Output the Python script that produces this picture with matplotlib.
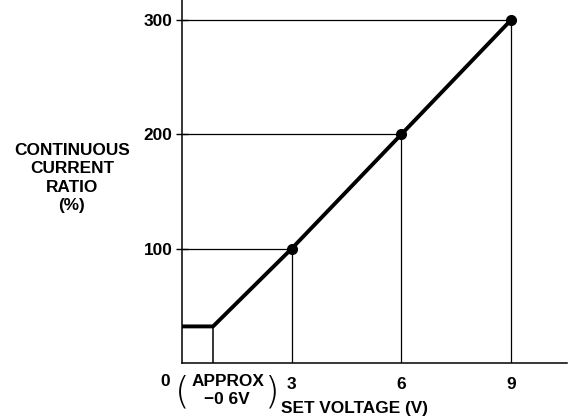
import matplotlib.pyplot as plt

# characteristic: set voltage vs continuous current ratio
set_voltage = [0, 0.85, 3, 6, 9]
current_ratio = [32, 32, 100, 200, 300]
marked_v = [3, 6, 9]
marked_ratio = [100, 200, 300]
x_ticks = [3, 6, 9]
y_ticks = [100, 200, 300]

plt.rcParams['font.family'] = ['Liberation Sans', 'DejaVu Sans']
fs = 12.4

fig = plt.figure(figsize=(5.71, 4.19), dpi=100)
ax = fig.add_axes([0.3187, 0.1337, 0.674, 0.866])
ax.set_xlim(0, 10.53)
ax.set_ylim(0, 317.5)

# thin guide lines to each marked point
for v, r in zip(marked_v, marked_ratio):
    ax.plot([0, v], [r, r], color='black', lw=0.9)
    ax.plot([v, v], [0, r], color='black', lw=0.9)

# small box under the flat part
ax.plot([set_voltage[1], set_voltage[1]], [0, current_ratio[1]], color='black', lw=1.1)

ax.plot(set_voltage, current_ratio, color='black', lw=2.8, solid_capstyle='butt')
ax.plot(marked_v, marked_ratio, 'o', color='black', ms=7)

for s in ['top', 'right']:
    ax.spines[s].set_visible(False)
for s in ['left', 'bottom']:
    ax.spines[s].set_linewidth(1.1)

ax.set_xticks(x_ticks)
ax.set_xticklabels([str(v) for v in x_ticks], fontsize=fs, fontweight='bold')
ax.tick_params(axis='x', length=0, pad=10)
ax.set_yticks(y_ticks)
ax.set_yticklabels([str(v) for v in y_ticks], fontsize=fs, fontweight='bold')
ax.tick_params(axis='y', direction='inout', length=8, width=1, pad=3)

# origin label and the offset note
ax.text(-0.46, -16.6, '0', ha='center', va='center', fontsize=fs, fontweight='bold', clip_on=False)
ax.text(1.26, -16.6, 'APPROX', ha='center', va='center', fontsize=fs, fontweight='bold', clip_on=False)
ax.text(1.24, -32, '\u22120 6V', ha='center', va='center', fontsize=fs, fontweight='bold', clip_on=False)
ax.text(0.02, -25.4, '(', ha='center', va='center', fontsize=27, clip_on=False,
        family='DejaVu Sans', fontweight='light')
ax.text(2.46, -25.4, ')', ha='center', va='center', fontsize=27, clip_on=False,
        family='DejaVu Sans', fontweight='light')

ax.text(4.72, -39.5, 'SET VOLTAGE (V)', ha='center', va='center', fontsize=fs,
        fontweight='bold', clip_on=False)

fig.text(0.126, 0.575, 'CONTINUOUS\nCURRENT\nRATIO\n(%)', ha='center', va='center',
         fontsize=fs, fontweight='bold', linespacing=1.3)

fig.savefig('out.png', dpi=100)
